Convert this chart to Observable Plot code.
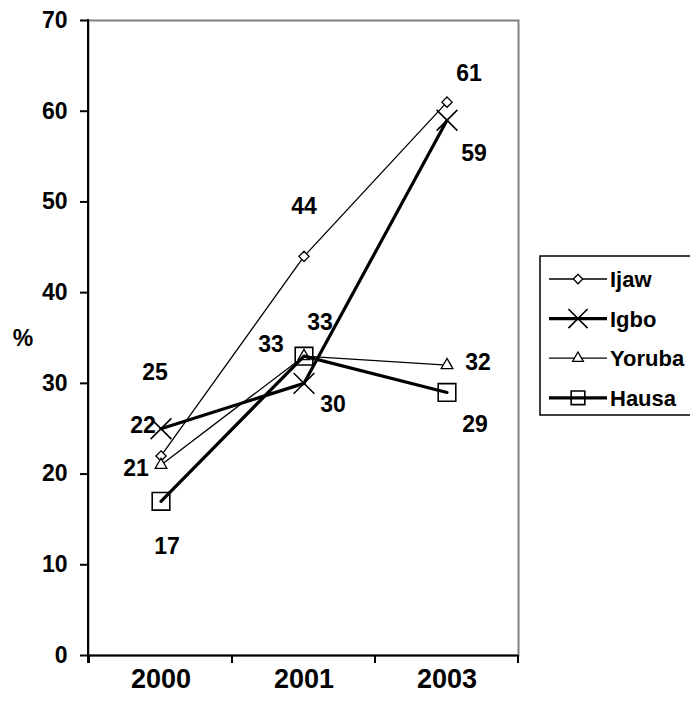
<!DOCTYPE html>
<html>
<head>
<meta charset="utf-8">
<script src="https://cdn.jsdelivr.net/npm/d3@7"></script>
<script src="https://cdn.jsdelivr.net/npm/@observablehq/plot@0.6"></script>
<style>
  html, body { margin: 0; padding: 0; background: #fff; }
  #chart { width: 690px; height: 708px; }
</style>
</head>
<body>
<div id="chart"></div>
<script>
// ---- data ----
const years = ["2000", "2001", "2003"];
const seriesNames = ["Ijaw", "Igbo", "Yoruba", "Hausa"];
const ijaw = [22, 44, 61];
const igbo = [25, 30, 59];
const yoruba = [21, 33, 32];
const hausa = [17, 33, 29];
const yTicks = [0, 10, 20, 30, 40, 50, 60, 70];

// ---- styles (not data) ----
const seriesValues = [ijaw, igbo, yoruba, hausa];
const styles = [
  {symbol: "diamond2", r: 4.6, fill: "white", lw: 1.3, mw: 1.3},
  {symbol: "times", r: 9.5, fill: "none", lw: 3.2, mw: 1.6},
  {symbol: "triangle2", r: 5.6, fill: "white", lw: 1.3, mw: 1.3},
  {symbol: "square2", r: 11.2, fill: "none", lw: 3.2, mw: 1.6}
];
// label offsets [dx, dy] per series, per year
const labelOffsets = [
  [[-18, -30], [0, -50], [22, -29]],
  [[-6, -56], [29, 21], [27, 33]],
  [[-25, 4], [16, -34], [31, -3]],
  [[6, 45], [-33, -12], [28, 32]]
];

const rows = seriesNames.flatMap((s, i) =>
  years.map((y, j) => ({series: s, si: i, yi: j, year: y, value: seriesValues[i][j]})));

const font = "'Liberation Sans', Arial, sans-serif";
const marks = [];
marks.push(Plot.frame({stroke: "#808080", strokeWidth: 2}));
seriesNames.forEach((s, i) => {
  const st = styles[i];
  const d = rows.filter(r => r.si === i);
  marks.push(Plot.line(d, {x: "year", y: "value", stroke: "black", strokeWidth: st.lw}));
  marks.push(Plot.dot(d, {x: "year", y: "value", symbol: () => st.symbol, r: st.r,
    stroke: "black", fill: st.fill, strokeWidth: st.mw}));
});
rows.forEach(r => {
  const [dx, dy] = labelOffsets[r.si][r.yi];
  marks.push(Plot.text([r], {x: "year", y: "value", text: d => String(d.value), dx, dy,
    fontSize: 23, fontWeight: "bold", fill: "black"}));
});
marks.push(Plot.ruleY([0], {stroke: "black", strokeWidth: 2.2}));
marks.push(Plot.axisY({ticks: yTicks, tickSize: 8, tickPadding: 13, fontSize: 23, fontWeight: "bold",
  strokeWidth: 2, label: null, tickFormat: d => String(d)}));
marks.push(Plot.axisX({tickSize: 0, tickPadding: 13, fontSize: 27, fontWeight: "bold", label: null}));

const chart = Plot.plot({
  width: 690,
  height: 708,
  marginLeft: 88,
  marginRight: 172,
  marginTop: 20,
  marginBottom: 53,
  style: {fontFamily: font, color: "black", background: "white", overflow: "visible"},
  x: {type: "band", domain: years, padding: 0},
  y: {domain: [0, 70]},
  marks
});

const svg = d3.select(chart);
const xs = chart.scale("x");
const ys = chart.scale("y");
const [x0, x1] = xs.range;
const yBottom = ys.apply(0), yTop = ys.apply(70);
const g = svg.append("g").attr("stroke", "black").attr("stroke-width", 2);
// left axis line
g.append("line").attr("x1", x0).attr("x2", x0).attr("y1", yTop - 1).attr("y2", yBottom + 8);
// category boundary ticks
years.map(y => xs.apply(y)).concat([x1]).forEach(x => {
  g.append("line").attr("x1", x).attr("x2", x).attr("y1", yBottom).attr("y2", yBottom + 8);
});
// y axis title
svg.append("text").attr("x", 23).attr("y", (yTop + yBottom) / 2 + 8)
  .attr("text-anchor", "middle").attr("font-size", 23).attr("font-weight", "bold")
  .attr("font-family", font).text("%");

// legend
const lg = svg.append("g").attr("font-family", font).attr("text-anchor", "start");
lg.append("rect").attr("x", 540).attr("y", 256).attr("width", 160).attr("height", 159)
  .attr("fill", "white").attr("stroke", "black").attr("stroke-width", 1.5);
const symMap = {diamond2: d3.symbolDiamond2, times: d3.symbolTimes, triangle2: d3.symbolTriangle2, square2: d3.symbolSquare2};
seriesNames.forEach((s, i) => {
  const st = styles[i];
  const yy = 279 + i * 39.6;
  lg.append("line").attr("x1", 549).attr("x2", 607).attr("y1", yy).attr("y2", yy)
    .attr("stroke", "black").attr("stroke-width", st.lw);
  lg.append("path").attr("transform", `translate(578,${yy})`)
    .attr("d", d3.symbol(symMap[st.symbol], Math.PI * st.r * st.r * (i === 3 ? 0.6 : 0.85))())
    .attr("fill", st.fill).attr("stroke", "black").attr("stroke-width", st.mw);
  lg.append("text").attr("x", 610).attr("y", yy + 8).attr("font-size", 22)
    .attr("font-weight", "bold").attr("text-anchor", "start").text(s);
});

document.getElementById("chart").appendChild(chart);
</script>
</body>
</html>
